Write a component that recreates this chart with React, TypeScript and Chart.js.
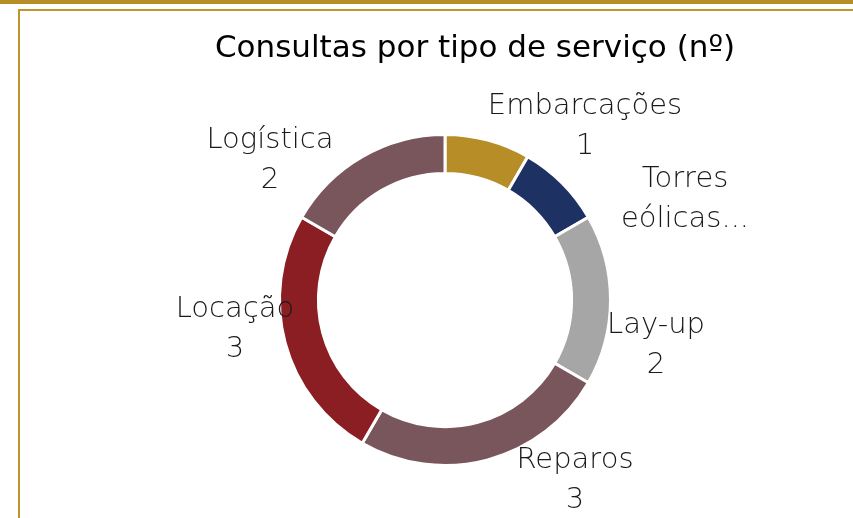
import React, { useEffect, useRef } from "react";
import { Chart, registerables } from "chart.js";
Chart.register(...registerables);

const chartTitle = "Consultas por tipo de serviço (nº)";
const categories = ["Embarcações", "Torres eólicas", "Lay-up", "Reparos", "Locação", "Logística"];
const values = [1, 1, 2, 3, 3, 2];
const sliceColors = ["#B68D27", "#1D3163", "#A6A6A6", "#79565B", "#8B1E22", "#79565B"];
// label text as shown (Excel truncates the second one)
const labelNames = [["Embarcações"], ["Torres", "eólicas..."], ["Lay-up"], ["Reparos"], ["Locação"], ["Logística"]];
const labelShowValue = [true, false, true, true, true, true];
// label block centre offsets from the doughnut centre (px)
const labelOffsets = [
  [140, -174],
  [240, -101],
  [211, 45],
  [130, 180],
  [-210, 29],
  [-175, -140],
];

const GOLD = "#B68D27";
const FONT = "'DejaVu Sans', 'Liberation Sans', sans-serif";

const decorPlugin = {
  id: "decor",
  beforeDraw(chart: any) {
    const ctx = chart.ctx;
    ctx.save();
    ctx.fillStyle = "#ffffff";
    ctx.fillRect(0, 0, chart.width, chart.height);
    ctx.fillStyle = GOLD;
    ctx.fillRect(0, 0, chart.width, 4);
    ctx.strokeStyle = "#BF962E";
    ctx.lineWidth = 2;
    ctx.strokeRect(19, 10, chart.width + 20, chart.height + 20);
    ctx.restore();
  },
  afterDraw(chart: any) {
    const ctx = chart.ctx;
    ctx.save();
    ctx.fillStyle = "#000000";
    ctx.font = `400 31px ${FONT}`;
    ctx.textAlign = "center";
    ctx.textBaseline = "alphabetic";
    ctx.fillText(chartTitle, 475, 57);

    const meta = chart.getDatasetMeta(0);
    ctx.font = `200 29px ${FONT}`;
    ctx.fillStyle = "#1a1a1a";
    ctx.textBaseline = "middle";
    meta.data.forEach((arc: any, i: number) => {
      const lines = [...labelNames[i]];
      if (labelShowValue[i]) lines.push(String(values[i]));
      const cx = arc.x + labelOffsets[i][0];
      const cy = arc.y + labelOffsets[i][1];
      const lh = 40;
      const top = cy - ((lines.length - 1) * lh) / 2;
      lines.forEach((t, k) => ctx.fillText(t, cx, top + k * lh));
    });
    ctx.restore();
  },
};

export default function App() {
  const ref = useRef<HTMLCanvasElement>(null);
  useEffect(() => {
    if (!ref.current) return;
    const chart = new Chart(ref.current, {
      type: "doughnut",
      data: {
        labels: categories,
        datasets: [
          {
            data: values,
            backgroundColor: sliceColors,
            borderColor: "#ffffff",
            borderWidth: 3,
          },
        ],
      },
      options: {
        animation: false,
        responsive: false,
        cutout: "76.5%",
        layout: { padding: { left: 200, right: 163, top: 133, bottom: 51 } },
        plugins: {
          legend: { display: false },
          tooltip: { enabled: false },
          title: { display: false },
        },
      },
      plugins: [decorPlugin],
    });
    return () => chart.destroy();
  }, []);
  return (
    <div style={{ position: "fixed", left: 0, top: 0, width: 853, height: 518, background: "#fff" }}>
      <canvas ref={ref} width={853} height={518} style={{ width: 853, height: 518, display: "block" }} />
    </div>
  );
}
